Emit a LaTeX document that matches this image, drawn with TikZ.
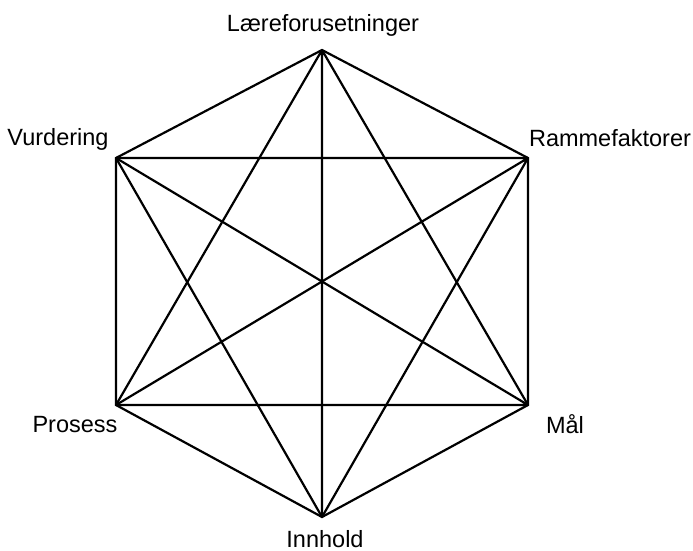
\documentclass[tikz,border=0pt]{standalone}
\usepackage{fontspec}
\setmainfont{Liberation Sans}
\begin{document}
\begin{tikzpicture}[x=1pt,y=-1pt,
  edge/.style={line width=2.2pt,line join=miter,line cap=round},
  lbl/.style={anchor=base,inner sep=0pt,font=\fontsize{23.5}{27}\selectfont}]
\useasboundingbox (0,0) rectangle (693,551);
\coordinate (T) at (322,50);
\coordinate (UR) at (528,158);
\coordinate (LR) at (528,405);
\coordinate (B) at (322,517);
\coordinate (LL) at (116,405);
\coordinate (UL) at (116,158);
\draw[edge] (T) -- (UR) -- (LR) -- (B) -- (LL) -- (UL) -- cycle;
\draw[edge] (T) -- (LR) (T) -- (B) (T) -- (LL);
\draw[edge] (UR) -- (B) (UR) -- (LL) (UR) -- (UL);
\draw[edge] (LR) -- (LL) (LR) -- (UL);
\draw[edge] (B) -- (UL);
\node[lbl] (lt) at (323,32) {Læreforusetninger};
\node[lbl] (lul) at (58,145) {Vurdering};
\node[lbl] (lur) at (610,146) {Rammefaktorer};
\node[lbl] (lll) at (75,432) {Prosess};
\node[lbl] (llr) at (565,433) {Mål};
\node[lbl] (lb) at (325,547) {Innhold};
\end{tikzpicture}
\end{document}
